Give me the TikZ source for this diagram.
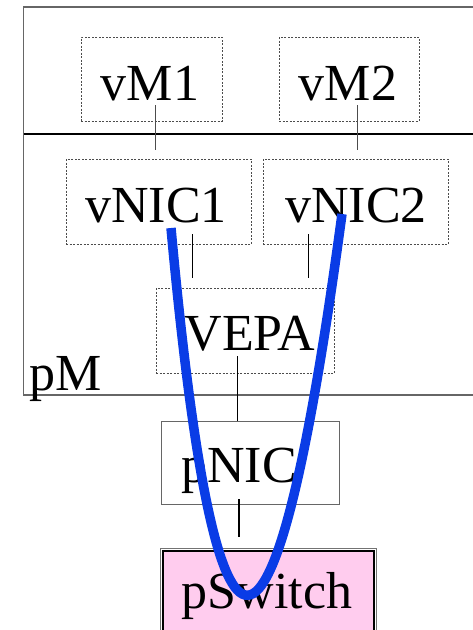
\documentclass[tikz,border=0pt]{standalone}
\usepackage{fontspec}
\setmainfont{Liberation Serif}
\definecolor{pathblue}{RGB}{10,60,230}
\definecolor{switchpink}{RGB}{255,204,238}
\begin{document}
\begin{tikzpicture}[x=1pt,y=-1pt,
  lbl/.style={font=\fontsize{52}{52}\selectfont, inner sep=0pt, anchor=base},
  vbox/.style={draw=black!70, dash pattern=on 2pt off 1.5pt, line width=0.8pt,
               inner sep=0pt, rectangle},
  pbox/.style={draw=black!60, line width=0.9pt, inner sep=0pt, rectangle},
  wire/.style={draw=black, line width=0.8pt},
  flow/.style={draw=pathblue, line width=9.5pt}
]
\useasboundingbox (0,0) rectangle (472,630);

% physical machine frame and the host/guest divider
\draw[black!60, line width=1.5pt] (480,7) -- (23.5,7) -- (23.5,395) -- (480,395);
\draw[black, line width=2.5pt] (23.5,134) -- (480,134);
\node[lbl, anchor=base west] (pmt) at (29,390) {pM};

% virtual machines
\node[vbox, minimum width=141pt, minimum height=84pt] (vm1) at (151.5,79) {};
\node[vbox, minimum width=140pt, minimum height=84pt] (vm2) at (349,79) {};
\node[lbl] (vm1t) at (150,100) {vM1};
\node[lbl] (vm2t) at (348,100) {vM2};

% virtual NICs
\node[vbox, minimum width=185pt, minimum height=85pt] (vnic1) at (158.5,201.5) {};
\node[vbox, minimum width=185pt, minimum height=85pt] (vnic2) at (355.5,201.5) {};
\node[lbl] (vnic1t) at (156,222) {vNIC1};
\node[lbl] (vnic2t) at (356,222) {vNIC2};

% VEPA
\node[vbox, minimum width=178pt, minimum height=85pt] (vepa) at (245,330.5) {};
\node[lbl] (vepat) at (250,350) {VEPA};

% physical NIC
\node[pbox, minimum width=178pt, minimum height=83pt] (pnic) at (250,462.5) {};
\node[lbl] (pnict) at (239,482) {pNIC};

% physical switch (double frame)
\draw[black!55, line width=0.8pt] (160,640) -- (160,548) -- (376,548) -- (376,640);
\node[rectangle, fill=switchpink, draw=black, line width=2pt, inner sep=0pt,
      minimum width=211pt, minimum height=90pt] (psw) at (268,596) {};
\node[lbl] (pswt) at (267,608) {pSwitch};

% attachment wires
\coordinate (a1) at (155,105);  \coordinate (b1) at (155,150);
\coordinate (a2) at (357,105);  \coordinate (b2) at (357,150);
\coordinate (a3) at (192,234);  \coordinate (b3) at (192,278);
\coordinate (a4) at (308,234);  \coordinate (b4) at (308,278);
\coordinate (a5) at (237,356);
\coordinate (a6) at (239,499);  \coordinate (b6) at (239,537);
\draw[wire, draw=black!70] (a1) -- (b1);
\draw[wire, draw=black!70] (a2) -- (b2);
\draw[wire] (a3) -- (b3);
\draw[wire] (a4) -- (b4);
\draw[wire] (a5) -- (a5 |- pnic.north);
\draw[wire, line width=1.2pt] (a6) -- (b6);

% hairpin traffic path through the switch
\coordinate (fs) at (171,228);
\coordinate (fe) at (342,214);
\draw[flow] (fs) .. controls (216,720) and (274,720) .. (fe);
\end{tikzpicture}
\end{document}
